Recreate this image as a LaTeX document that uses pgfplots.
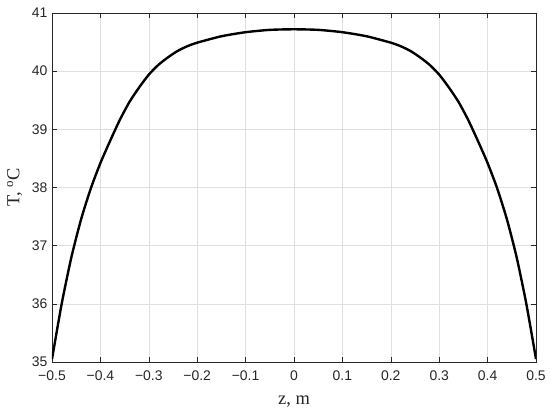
\documentclass[border=0pt]{standalone}
\usepackage{fontspec}
\setmainfont{Liberation Serif}
\newfontfamily\ticksf{Liberation Sans}
\usepackage{pgfplots}
\pgfplotsset{compat=1.18}
\definecolor{axgray}{RGB}{38,38,38}
\definecolor{gridgray}{RGB}{223,223,223}
\begin{document}
\begin{tikzpicture}
\begin{axis}[
  scale only axis,
  width=484bp, height=349bp,
  xmin=-0.5, xmax=0.5, ymin=35, ymax=41,
  xtick={-0.5,-0.4,...,0.5},
  xticklabels={−0.5,−0.4,−0.3,−0.2,−0.1,0,0.1,0.2,0.3,0.4,0.5},
  ytick={35,36,...,41},
  yticklabels={35,36,37,38,39,40,41},
  tick label style={font=\ticksf\fontsize{14}{16}\selectfont, text=axgray},
  xticklabel style={yshift=-5bp},
  yticklabel style={xshift=-1bp},
  grid=major,
  grid style={gridgray, line width=0.5pt},
  axis line style={axgray, line width=0.6pt},
  tick style={axgray, line width=0.6pt},
  tick align=inside,
  major tick length=5bp,
  xlabel={z, m},
  ylabel={T, $^{\mathrm{o}}$C},
  every axis x label/.style={at={(ticklabel cs:0.5)}, anchor=north, font=\fontsize{18.5}{20}\selectfont, text=axgray, yshift=-9bp},
  every axis y label/.style={at={(ticklabel cs:0.5)}, anchor=south, rotate=90, font=\fontsize{18.5}{20}\selectfont, text=axgray, yshift=3bp},
]
\addplot[black, line width=2.4pt, smooth, tension=0.4] coordinates {
  (-0.5,35.05) (-0.48,36.0) (-0.46,36.8) (-0.44,37.45) (-0.42,37.98)
  (-0.40,38.42) (-0.38,38.80) (-0.36,39.16) (-0.34,39.47) (-0.32,39.72)
  (-0.30,39.94) (-0.28,40.11) (-0.26,40.24) (-0.24,40.35) (-0.22,40.43)
  (-0.20,40.49) (-0.15,40.60) (-0.10,40.67) (-0.05,40.71) (0,40.72)
  (0.05,40.71) (0.10,40.67) (0.15,40.60) (0.20,40.49) (0.22,40.43)
  (0.24,40.35) (0.26,40.24) (0.28,40.11) (0.30,39.94) (0.32,39.72)
  (0.34,39.47) (0.36,39.16) (0.38,38.80) (0.40,38.42) (0.42,37.98)
  (0.44,37.45) (0.46,36.8) (0.48,36.0) (0.5,35.05)
};
\end{axis}
\path ([xshift=-52bp,yshift=-50bp]current axis.south west) rectangle ([xshift=14bp,yshift=13bp]current axis.north east);
\end{tikzpicture}
\end{document}
